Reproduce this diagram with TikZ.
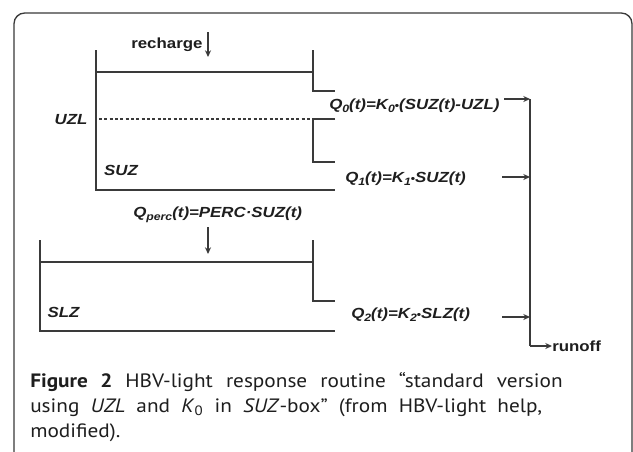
\documentclass[tikz,border=0pt]{standalone}
\usepackage{fontspec}
\setmainfont{Liberation Sans}
\newfontfamily\capfont{PT Sans}
\usetikzlibrary{arrows.meta}
\definecolor{linegray}{HTML}{3A3A3A}
\definecolor{txt}{HTML}{1E1E1E}
\newcommand\lo[1]{\raisebox{-0.35ex}{\fontsize{8pt}{8pt}\selectfont #1}}
\newcommand\bdot{\raisebox{0.05ex}{\fontsize{8pt}{8pt}\selectfont\upshape •}}
\newcommand\stretchx[1]{\scalebox{1.15}[1]{#1}}
\newcommand\capx[1]{\scalebox{1.1}[1]{#1}}
\tikzset{
  ln/.style={draw=linegray, line width=1.1pt},
  dashln/.style={draw=linegray, line width=0.8pt, dash pattern=on 2.2pt off 1.8pt},
  arr/.style={draw=linegray, line width=1.1pt, -{Stealth[length=5pt,width=4.5pt]}},
  lbl/.style={font=\fontsize{11pt}{13pt}\selectfont\bfseries\itshape, inner sep=0pt, text=txt},
  upl/.style={font=\fontsize{11pt}{13pt}\selectfont\bfseries, inner sep=0pt, text=txt},
  captxt/.style={font=\capfont\fontsize{14.5pt}{17pt}\selectfont, inner sep=0pt, text=txt, anchor=west},
  framebox/.style={draw=linegray, line width=1pt, rounded corners=8pt}
}
\begin{document}
\begin{tikzpicture}[x=0.75pt, y=-0.75pt]
\clip (0,0) rectangle (633,451);
\fill[white] (0,0) rectangle (633,451);
\draw[framebox] (14,470) -- (14,13) -- (632,13) -- (632,470);
% upper box
\coordinate (uTL) at (96,50);
\coordinate (uBL) at (96,190);
\coordinate (uBR) at (335,190);
\coordinate (uWL) at (96,72);
\coordinate (uWR) at (313,72);
\coordinate (uRT) at (313,50);
\coordinate (uR1) at (313,91);
\coordinate (uL1) at (335,91);
\coordinate (dashL) at (99,119);
\coordinate (uR2) at (313,119);
\coordinate (uL2a) at (335,119);
\coordinate (uR3) at (313,162);
\coordinate (uL3) at (335,162);
\draw[ln] (uTL) -- (uBL) -- (uBR);
\draw[ln] (uWL) -- (uWR);
\draw[ln] (uRT) -- (uR1) -- (uL1);
\draw[dashln] (dashL) -- (uR2);
\draw[ln] (uL2a) -- (uR2) -- (uR3) -- (uL3);
% lower box
\coordinate (lTL) at (40,240);
\coordinate (lBL) at (40,331);
\coordinate (lBR) at (335,331);
\coordinate (lWL) at (40,262);
\coordinate (lWR) at (313,262);
\coordinate (lRT) at (313,240);
\coordinate (lR1) at (313,301);
\coordinate (lL1) at (335,301);
\draw[ln] (lTL) -- (lBL) -- (lBR);
\draw[ln] (lWL) -- (lWR);
\draw[ln] (lRT) -- (lR1) -- (lL1);
% labels
\node[upl, anchor=west] (rech) at (131,45) {\stretchx{recharge}};
\coordinate (rechA) at (208,32);
\coordinate (rechB) at (208,57);
\draw[arr] (rechA) -- (rechB);
\node[lbl] (uzl) at (71,120) {\stretchx{UZL}};
\node[lbl] (suz) at (121,170) {\stretchx{SUZ}};
\node[lbl] (slz) at (63.5,312) {\stretchx{SLZ}};
\node[lbl, anchor=west] (q0) at (329,106) {\stretchx{Q\lo{0}(t)=K\lo{0}\bdot(SUZ(t)-UZL)}};
\node[lbl, anchor=west] (q1) at (345,179) {\stretchx{Q\lo{1}(t)=K\lo{1}\bdot SUZ(t)}};
\node[lbl, anchor=west] (qp) at (133,215) {\stretchx{Q\lo{perc}(t)=PERC·SUZ(t)}};
\node[lbl, anchor=west] (q2) at (351,315) {\stretchx{Q\lo{2}(t)=K\lo{2}\bdot SLZ(t)}};
\coordinate (pA) at (208,227);
\coordinate (pB) at (208,254);
\draw[arr] (pA) -- (pB);
% collector
\coordinate (c0) at (530,99);
\coordinate (c1) at (530,177);
\coordinate (c2) at (530,317);
\coordinate (cb) at (530,346);
\node[upl, anchor=west] (runoff) at (552,346) {\stretchx{runoff}};
\coordinate (a0) at (504,99);
\coordinate (a1) at (502,177);
\coordinate (a2) at (502,317);
\draw[arr] (a0) -- (c0);
\draw[arr] (a1) -- (c1);
\draw[arr] (a2) -- (c2);
\draw[ln] (c0) -- (cb);
\draw[arr] (cb) -- (runoff.west);
% caption
\node[captxt] (cap1) at (30,382) {\capx{\makebox[363pt][s]{\textbf{Figure 2} HBV-light response routine “standard version}}};
\node[captxt] (cap2) at (30,408) {\capx{\makebox[349pt][s]{using \textit{UZL} and \textit{K}\textsubscript{0} in \textit{SUZ}-box” (from HBV-light help,}}};
\node[captxt] (cap3) at (30,433) {\capx{modified).}};
\end{tikzpicture}
\end{document}
